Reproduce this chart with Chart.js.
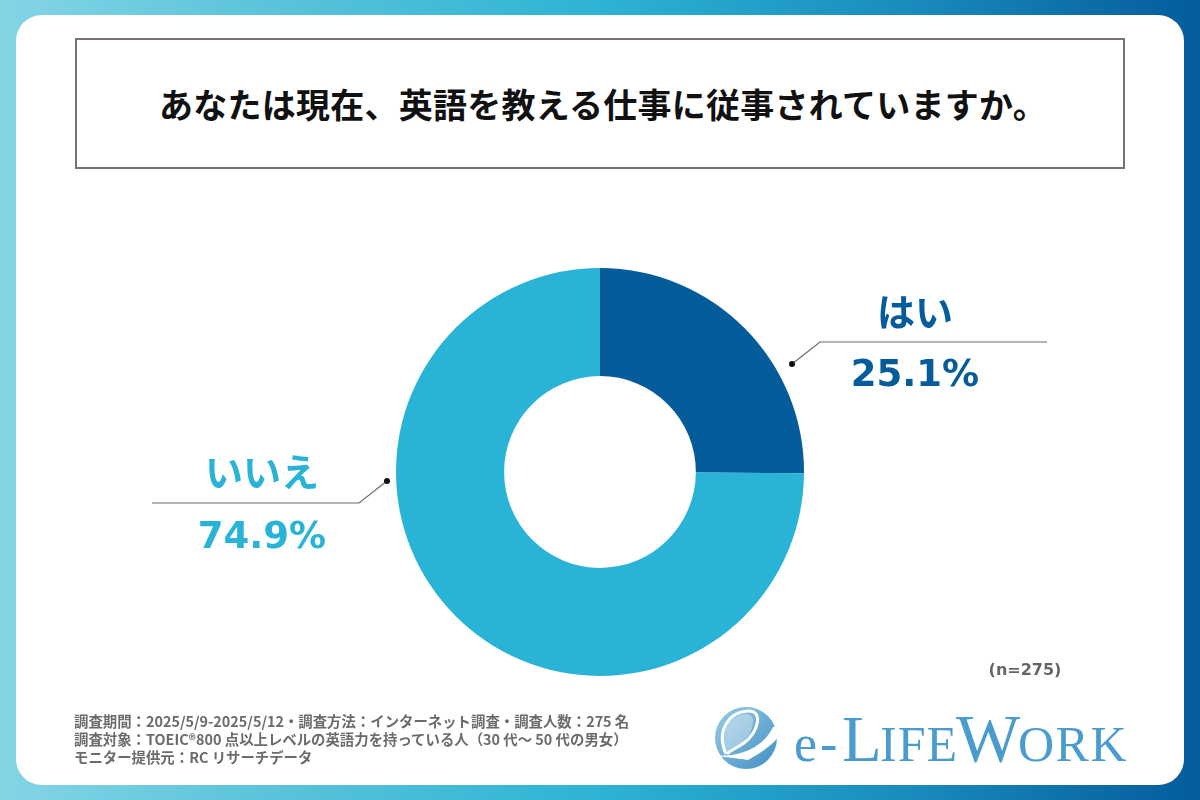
<!DOCTYPE html>
<html lang="ja">
<head>
<meta charset="utf-8">
<title>英語を教える仕事</title>
<script src="https://cdn.jsdelivr.net/npm/chart.js@4"></script>
<style>
  html, body { margin: 0; padding: 0; }
  body {
    position: relative; width: 1200px; height: 800px; overflow: hidden;
    background: linear-gradient(90deg, #84d5e6 0%, #5fc5da 20%, #2db3d5 50%, #1a8dbd 75%, #045c9b 100%);
    font-family: "Noto Sans CJK JP", "Noto Sans", sans-serif;
  }
  #card { position: absolute; left: 16px; top: 15px; width: 1168px; height: 770px; background: #fff; border-radius: 26px; }
  #titleBox {
    position: absolute; left: 75px; top: 38px; height: 127px; width: 1040px;
    border: 2px solid #7a7078; display: flex; align-items: center; justify-content: center;
    font-size: 34px; font-weight: 700; color: #111; white-space: nowrap;
    letter-spacing: 0.25px; padding-left: 6px;
  }
  canvas { position: absolute; left: 0; top: 0; }
  .label { position: absolute; width: 300px; text-align: center; font-weight: 700; line-height: 1; }
  .name { font-size: 38px; }
  .pct { font-size: 37px; font-family: "DejaVu Sans", sans-serif; }
  #sample { position: absolute; left: 925px; width: 200px; top: 660px; text-align: center; font-size: 16px; font-weight: 700; color: #666; line-height: 20px; font-family: "DejaVu Sans", sans-serif; }
  #notes { position: absolute; left: 74px; top: 712px; font-size: 14.4px; font-weight: 700; color: #6b6b6b; line-height: 18px; white-space: nowrap; }
  #logo { position: absolute; left: 700px; top: 680px; }
</style>
</head>
<body>
<div id="card"></div>
<div id="titleBox"></div>
<canvas id="donut" width="1200" height="800"></canvas>
<div id="sample"></div>
<div id="notes"></div>
<svg id="logo" width="440" height="100" viewBox="700 680 440 100">
  <defs>
    <linearGradient id="globe" x1="0" y1="0" x2="1" y2="1">
      <stop offset="0" stop-color="#9ccde3"/><stop offset="1" stop-color="#3f8fc6"/>
    </linearGradient>
  </defs>
  <circle cx="746" cy="738" r="31" fill="url(#globe)"/>
  <path d="M728 755 C718 735 728 716 745 714 C756 713 755 727 747 738 C740 747 733 750 728 755 Z" fill="#fff" opacity="0.35"/>
  <path d="M726 754 C716 732 728 712 748 711 C764 710 758 733 744 743 C737 748 731 750 727 754" fill="none" stroke="#fff" stroke-width="3"/>
  <path d="M713 755 C735 758 762 750 773 727 C781 725 784 726 782 730 C778 742 762 752 748 760 C735 758 722 757 713 755 Z" fill="#fff"/>
  <g font-family="Liberation Serif" fill="#4a9ccf">
    <text x="794" y="761" font-size="52" letter-spacing="3">e-</text>
    <text x="842" y="761" font-size="65">L</text>
    <text x="880" y="761" font-size="50" letter-spacing="1">IFE</text>
    <text x="956" y="761" font-size="68">W</text>
    <text x="1018" y="761" font-size="50" letter-spacing="1.5">ORK</text>
  </g>
</svg>
<script>
const titleText = 'あなたは現在、英語を教える仕事に従事されていますか。';
const categories = ['はい', 'いいえ'];
const shares = [25.1, 74.9];
const sliceColors = ['#045c9b', '#29b3d6'];
const sampleText = '(n=275)';
const noteLines = [
  '調査期間：2025/5/9-2025/5/12・調査方法：インターネット調査・調査人数：275 名',
  '調査対象：TOEIC®800 点以上レベルの英語力を持っている人（30 代～ 50 代の男女）',
  'モニター提供元：RC リサーチデータ'
];

document.getElementById('titleBox').textContent = titleText;
document.getElementById('sample').textContent = sampleText;
document.getElementById('notes').innerHTML = noteLines.join('<br>');

// label block centres and leader lines, relative to the doughnut centre
const callouts = [
  { x: 315, nameY: -162, pctY: -99, dot: [192, -108], elbow: [220, -130], end: [447, -130] },
  { x: -338, nameY: -2, pctY: 63, dot: [-213, 9], elbow: [-241, 31], end: [-448, 31] }
];

const leaderLines = {
  id: 'leaderLines',
  afterDraw(chart) {
    const arc = chart.getDatasetMeta(0).data[0];
    const ctx = chart.ctx;
    ctx.save();
    callouts.forEach(c => {
      ctx.strokeStyle = '#6e666c';
      ctx.lineWidth = 1.2;
      ctx.beginPath();
      ctx.moveTo(arc.x + c.dot[0], arc.y + c.dot[1]);
      ctx.lineTo(arc.x + c.elbow[0], arc.y + c.elbow[1]);
      ctx.lineTo(arc.x + c.end[0], arc.y + c.end[1]);
      ctx.stroke();
      ctx.fillStyle = '#111';
      ctx.beginPath();
      ctx.arc(arc.x + c.dot[0], arc.y + c.dot[1], 3, 0, Math.PI * 2);
      ctx.fill();
    });
    ctx.restore();
  }
};

const chart = new Chart(document.getElementById('donut').getContext('2d'), {
  type: 'doughnut',
  data: {
    labels: categories,
    datasets: [{
      data: shares,
      backgroundColor: sliceColors,
      borderWidth: 0
    }]
  },
  options: {
    responsive: false,
    animation: false,
    cutout: '47%',
    layout: { padding: { left: 396, right: 396, top: 268, bottom: 124 } },
    plugins: { legend: { display: false }, tooltip: { enabled: false } }
  },
  plugins: [leaderLines]
});

// category names and percentages as page text
const arc = chart.getDatasetMeta(0).data[0];
categories.forEach((name, i) => {
  const c = callouts[i];
  [[name, c.nameY, 'name', 38], [shares[i].toFixed(1) + '%', c.pctY, 'pct', 37]].forEach(([text, dy, cls, size]) => {
    const el = document.createElement('div');
    el.className = 'label ' + cls;
    el.textContent = text;
    el.style.color = sliceColors[i];
    el.style.left = (arc.x + c.x - 150) + 'px';
    el.style.top = (arc.y + dy - size / 2) + 'px';
    document.body.appendChild(el);
  });
});
</script>
</body>
</html>
